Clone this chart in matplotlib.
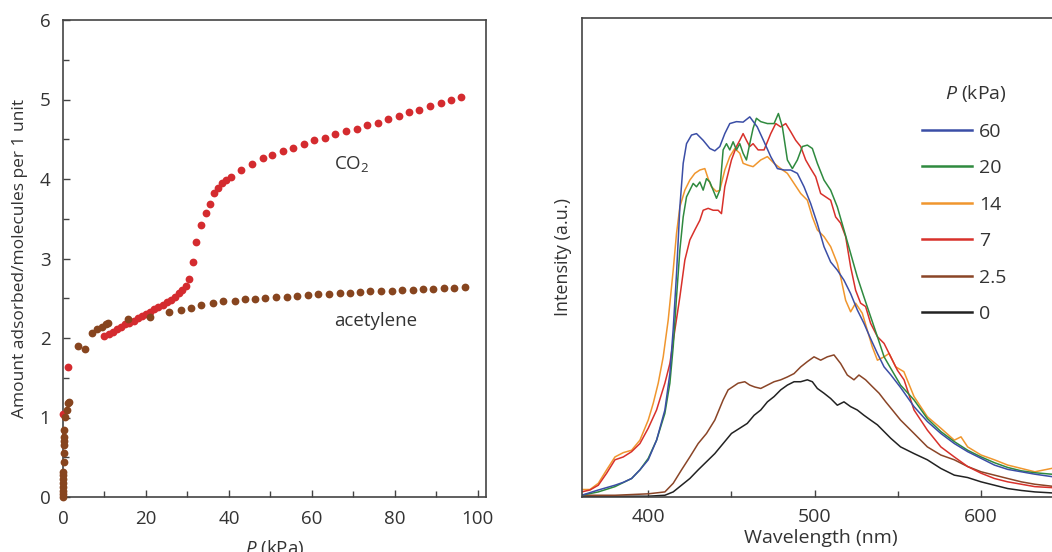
import matplotlib
matplotlib.use('Agg')
import matplotlib.pyplot as plt
from matplotlib.ticker import MultipleLocator

plt.rcParams['font.family'] = ['Open Sans', 'DejaVu Sans']
plt.rcParams['mathtext.fontset'] = 'custom'
plt.rcParams['mathtext.rm'] = 'Open Sans'
plt.rcParams['mathtext.it'] = 'Open Sans:italic'

# --- left panel: adsorption isotherms (P in kPa, molecules per unit) ---
co2_p = [0.0, 1.2, 10, 11, 12, 13, 14, 15, 16, 17, 18, 19, 20, 21, 22, 23, 24,
         25, 26, 27, 28, 28.8, 29.6, 30.5, 31.3, 32.1, 33.3, 34.4, 35.5, 36.5,
         37.3, 38.4, 39.4, 40.6, 43.0, 45.6, 48.2, 50.4, 53.0, 55.5, 58.0, 60.6,
         63.2, 65.7, 68.3, 70.8, 73.3, 75.9, 78.4, 81.0, 83.5, 85.9, 88.5, 91.2,
         93.6, 96.0]
co2_a = [1.05, 1.64, 2.02, 2.05, 2.08, 2.11, 2.14, 2.17, 2.19, 2.22, 2.25, 2.28,
         2.30, 2.33, 2.36, 2.39, 2.42, 2.45, 2.48, 2.52, 2.56, 2.60, 2.65, 2.74,
         2.95, 3.21, 3.42, 3.57, 3.69, 3.82, 3.89, 3.95, 3.99, 4.03, 4.11, 4.19,
         4.26, 4.30, 4.35, 4.39, 4.44, 4.49, 4.52, 4.56, 4.60, 4.63, 4.68, 4.71,
         4.75, 4.79, 4.84, 4.87, 4.92, 4.95, 4.99, 5.03]

acet_p = [0.0, 0.0, 0.05, 0.05, 0.1, 0.1, 0.1, 0.1, 0.15, 0.2, 0.2, 0.2, 0.25,
          0.3, 0.5, 0.9, 1.3, 1.5, 3.6, 5.2, 7.0, 8.1, 9.3, 10.4, 10.9, 15.7,
          20.9, 25.5, 28.5, 30.9, 33.3, 36.1, 38.7, 41.4, 43.9, 46.4, 48.8, 51.4,
          54.0, 56.5, 59.0, 61.6, 64.1, 66.7, 69.1, 71.5, 74.1, 76.7, 79.3, 81.8,
          84.3, 86.7, 89.3, 91.8, 94.4, 97.0]
acet_a = [0.0, 0.04, 0.08, 0.13, 0.18, 0.23, 0.28, 0.32, 0.44, 0.55, 0.65, 0.70,
          0.76, 0.84, 1.01, 1.09, 1.18, 1.20, 1.90, 1.86, 2.06, 2.11, 2.14, 2.17,
          2.19, 2.24, 2.27, 2.33, 2.35, 2.38, 2.42, 2.44, 2.46, 2.47, 2.49, 2.49,
          2.50, 2.51, 2.52, 2.53, 2.54, 2.55, 2.55, 2.56, 2.57, 2.58, 2.59, 2.59,
          2.59, 2.60, 2.61, 2.62, 2.62, 2.63, 2.63, 2.64]

# --- right panel: emission spectra at several pressures ---
pressures = ['60', '20', '14', '7', '2.5', '0']

wl_60 = [360, 370, 380, 385, 390, 395, 400, 405, 410, 413, 415, 417, 419, 421,
         423, 426, 429, 433, 437, 440, 443, 446, 449, 453, 457, 461, 465.5,
         469.6, 473.6, 477.6, 481.6, 485.6, 489.6, 493.6, 497.6, 501.6, 505.6,
         509.6, 513.6, 517.6, 521.6, 525.6, 529.6, 533.6, 537.7, 541.7, 545.6,
         551.6, 559.7, 567.7, 575.8, 583.9, 591.9, 600, 608, 616, 624.2, 632.3,
         642.3]
int_60 = [0.003, 0.014, 0.024, 0.030, 0.038, 0.056, 0.077, 0.118, 0.181, 0.257,
          0.350, 0.466, 0.605, 0.696, 0.737, 0.755, 0.758, 0.744, 0.727, 0.722,
          0.731, 0.758, 0.779, 0.783, 0.782, 0.793, 0.772, 0.741, 0.710, 0.685,
          0.682, 0.682, 0.675, 0.647, 0.612, 0.570, 0.522, 0.490, 0.473, 0.452,
          0.424, 0.390, 0.362, 0.330, 0.299, 0.271, 0.255, 0.228, 0.188, 0.157,
          0.132, 0.111, 0.094, 0.080, 0.066, 0.057, 0.052, 0.047, 0.042]

wl_20 = [360, 370, 380, 390, 395, 400, 405, 410, 413, 415, 417, 419, 421, 423,
         425, 427, 429, 431, 433, 435, 437, 439, 441, 443, 445, 447, 449, 451,
         453, 455, 457, 459, 461, 463, 465, 467.6, 471.6, 475.6, 478.2, 480.6,
         483.6, 486.6, 489.6, 492.6, 495.6, 498.6, 501.6, 505.6, 509.6, 513.6,
         517.6, 521.6, 525.6, 529.6, 533.6, 537.7, 541.7, 545.7, 551.6, 559.7,
         567.7, 575.8, 583.9, 591.9, 600, 608, 616, 624.2, 632.3, 642.3]
int_20 = [0.003, 0.010, 0.021, 0.038, 0.056, 0.080, 0.118, 0.174, 0.237, 0.313,
          0.417, 0.515, 0.584, 0.626, 0.640, 0.654, 0.647, 0.657, 0.640, 0.664,
          0.657, 0.640, 0.623, 0.640, 0.724, 0.737, 0.724, 0.741, 0.724, 0.737,
          0.717, 0.703, 0.737, 0.769, 0.790, 0.783, 0.779, 0.779, 0.800, 0.772,
          0.703, 0.685, 0.703, 0.731, 0.734, 0.727, 0.696, 0.661, 0.640, 0.605,
          0.557, 0.508, 0.459, 0.417, 0.376, 0.334, 0.292, 0.268, 0.233, 0.202,
          0.163, 0.136, 0.115, 0.097, 0.083, 0.071, 0.061, 0.054, 0.050, 0.047]

wl_14 = [360, 365, 370, 375, 380, 385, 390, 395, 400, 403, 406, 409, 412, 415,
         417, 419, 422, 425, 428, 431, 434, 436, 438, 441, 443, 446, 449, 452,
         455, 457, 460, 463, 467.6, 471.6, 475.6, 479.6, 483.6, 487.6, 491.6,
         495.6, 498.6, 501.6, 505.6, 509.6, 513.6, 515.6, 518.6, 521.6, 524.6,
         528.6, 531.6, 534.6, 537.7, 541.7, 544.7, 548.7, 553.6, 559.7, 567.7,
         575.8, 583.9, 587.9, 591.9, 600, 608, 616, 624.2, 632.3, 642.3]
int_14 = [0.015, 0.015, 0.028, 0.056, 0.083, 0.092, 0.097, 0.118, 0.160, 0.195,
          0.237, 0.292, 0.369, 0.473, 0.550, 0.605, 0.640, 0.661, 0.675, 0.682,
          0.685, 0.664, 0.647, 0.637, 0.640, 0.682, 0.710, 0.727, 0.717, 0.696,
          0.692, 0.689, 0.703, 0.710, 0.696, 0.685, 0.675, 0.654, 0.633, 0.619,
          0.584, 0.557, 0.543, 0.522, 0.487, 0.459, 0.410, 0.386, 0.404, 0.383,
          0.348, 0.313, 0.285, 0.292, 0.299, 0.271, 0.261, 0.209, 0.167, 0.143,
          0.118, 0.125, 0.104, 0.087, 0.077, 0.066, 0.059, 0.052, 0.059]

wl_7 = [360, 365, 370, 375, 380, 385, 390, 395, 400, 405, 410, 413, 416, 419,
        422, 425, 428, 431, 433, 436, 439, 442, 444, 446, 448, 450, 453, 455,
        457, 459, 461, 463, 466, 469.6, 473.6, 476.6, 479.6, 482.6, 485.6,
        488.6, 491.6, 494.6, 497.6, 500.6, 503.6, 506.6, 509.6, 512.6, 515.6,
        518.6, 521.6, 524.6, 527.6, 530.6, 533.6, 537.7, 541.7, 545.7, 549.7,
        553.7, 559.7, 567.7, 575.8, 583.9, 591.9, 600, 608, 616, 624.2, 632.3,
        642.3]
int_7 = [0.010, 0.014, 0.024, 0.049, 0.077, 0.083, 0.094, 0.111, 0.143, 0.181,
         0.237, 0.278, 0.348, 0.417, 0.494, 0.536, 0.557, 0.577, 0.598, 0.602,
         0.598, 0.598, 0.591, 0.647, 0.675, 0.703, 0.731, 0.744, 0.758, 0.744,
         0.731, 0.737, 0.724, 0.724, 0.758, 0.779, 0.772, 0.779, 0.762, 0.744,
         0.731, 0.703, 0.685, 0.668, 0.633, 0.626, 0.619, 0.584, 0.571, 0.543,
         0.480, 0.431, 0.404, 0.397, 0.362, 0.334, 0.320, 0.292, 0.264, 0.244,
         0.181, 0.139, 0.104, 0.083, 0.063, 0.049, 0.038, 0.031, 0.026, 0.021,
         0.019]

wl_2_5 = [360, 380, 400, 410, 415, 420, 425, 430, 435, 440, 445, 448, 451, 454,
          458, 461, 464, 467.6, 471.6, 475.6, 479.6, 483.6, 487.6, 491.6, 495.6,
          499.6, 503.6, 507.6, 511.6, 515.6, 519.6, 523.6, 526.6, 530.6, 534.6,
          538.7, 542.7, 546.7, 551.6, 559.7, 567.7, 575.8, 583.9, 591.9, 600,
          608, 616, 624.2, 632.3, 642.3]
int_2_5 = [0.003, 0.003, 0.006, 0.010, 0.028, 0.056, 0.083, 0.111, 0.132, 0.160,
           0.202, 0.223, 0.230, 0.237, 0.240, 0.233, 0.229, 0.226, 0.233, 0.240,
           0.244, 0.250, 0.257, 0.271, 0.282, 0.292, 0.285, 0.292, 0.296, 0.278,
           0.254, 0.244, 0.254, 0.244, 0.230, 0.216, 0.198, 0.181, 0.160, 0.132,
           0.104, 0.087, 0.077, 0.063, 0.052, 0.045, 0.038, 0.031, 0.026, 0.022]

wl_0 = [360, 380, 400, 410, 415, 420, 425, 430, 435, 440, 445, 450, 455, 459.5,
        463.6, 467.6, 471.6, 475.6, 479.6, 483.6, 487.6, 491.6, 495.6, 498.6,
        501.6, 505.6, 509.6, 513.6, 517.6, 521.6, 525.6, 529.6, 533.6, 537.7,
        541.7, 545.7, 551.6, 559.7, 567.7, 575.8, 583.9, 591.9, 600, 608, 616,
        624.2, 632.3, 642.3]
int_0 = [0.001, 0.001, 0.001, 0.003, 0.010, 0.024, 0.038, 0.056, 0.073, 0.090,
         0.111, 0.132, 0.143, 0.153, 0.170, 0.181, 0.198, 0.209, 0.223, 0.233,
         0.240, 0.240, 0.244, 0.240, 0.226, 0.216, 0.205, 0.191, 0.198, 0.188,
         0.181, 0.170, 0.160, 0.150, 0.136, 0.122, 0.104, 0.090, 0.077, 0.059,
         0.045, 0.040, 0.031, 0.024, 0.017, 0.013, 0.010, 0.008]

spectra = {'60': (wl_60, int_60, '#3b4ea6'),
           '20': (wl_20, int_20, '#2f8a3f'),
           '14': (wl_14, int_14, '#f0962e'),
           '7': (wl_7, int_7, '#d8312b'),
           '2.5': (wl_2_5, int_2_5, '#8a4527'),
           '0': (wl_0, int_0, '#222222')}

red = '#d42b2f'
brown = '#87451f'
spine_col = '#444444'
text_col = '#333333'

fig = plt.figure(figsize=(10.52, 5.52), dpi=100)
ax1 = fig.add_axes([63 / 1052, 1 - 497 / 552, 423 / 1052, 477 / 552])
ax2 = fig.add_axes([582 / 1052, 1 - 496.7 / 552, 478 / 1052, 479 / 552])

for ax in (ax1, ax2):
    for s in ax.spines.values():
        s.set_color(spine_col)
        s.set_linewidth(1.2)
    ax.tick_params(which='both', direction='in', color=spine_col,
                   labelcolor=text_col, width=1)
    ax.tick_params(which='major', length=5)
    ax.tick_params(which='minor', length=4)

# left
ax1.plot(co2_p, co2_a, 'o', color=red, ms=5.6, mew=0, clip_on=False, zorder=3)
ax1.plot(acet_p, acet_a, 'o', color=brown, ms=5.6, mew=0, clip_on=False, zorder=4)
ax1.set_xlim(0, 102)
ax1.set_ylim(0, 6)
ax1.xaxis.set_major_locator(MultipleLocator(20))
ax1.xaxis.set_minor_locator(MultipleLocator(10))
ax1.yaxis.set_major_locator(MultipleLocator(1))
ax1.yaxis.set_minor_locator(MultipleLocator(0.5))
ax1.tick_params(axis='both', labelsize=13.5)
ax1.tick_params(axis='x', pad=9)
ax1.tick_params(axis='y', pad=9)
ax1.set_xlabel('$P$ (kPa)', fontsize=13.5, color=text_col)
ax1.set_ylabel('Amount adsorbed/molecules per 1 unit', fontsize=12.5, color=text_col)
ax1.xaxis.set_label_coords(0.5, -0.085)
ax1.yaxis.set_label_coords(-0.082, 0.5)
ax1.text(69.7, 4.19, 'CO$_2$', fontsize=13.5, color=text_col, ha='center', va='center')
ax1.text(75.5, 2.21, 'acetylene', fontsize=13.5, color=text_col, ha='center', va='center')

# right
for key in ['0', '2.5', '14', '7', '20', '60']:
    wl, inten, col = spectra[key]
    ax2.plot(wl, inten, color=col, lw=1.1)
handles = []
for key in pressures:
    h, = ax2.plot([], [], color=spectra[key][2], lw=1.8, label=key)
    handles.append(h)
leg = ax2.legend(handles=handles, title='$P$ (kPa)', loc='upper left',
                 bbox_to_anchor=(0.711, 0.863), frameon=False, fontsize=14,
                 title_fontsize=14, handlelength=2.6, handletextpad=0.33,
                 labelspacing=0.95, borderpad=0, borderaxespad=0, alignment='right')
for t in leg.get_texts():
    t.set_color(text_col)
leg.get_title().set_color(text_col)

ax2.set_xlim(360.2, 647.4)
ax2.set_ylim(0, 1)
ax2.xaxis.set_major_locator(MultipleLocator(100))
ax2.xaxis.set_minor_locator(MultipleLocator(50))
ax2.set_yticks([])
ax2.tick_params(axis='x', labelsize=14, pad=8)
ax2.spines['right'].set_visible(False)
ax2.set_xlabel('Wavelength (nm)', fontsize=14, color=text_col)
ax2.set_ylabel('Intensity (a.u.)', fontsize=13, color=text_col)
ax2.xaxis.set_label_coords(0.5, -0.068)
ax2.yaxis.set_label_coords(-0.02, 0.5)

fig.savefig('out.png', dpi=100)
